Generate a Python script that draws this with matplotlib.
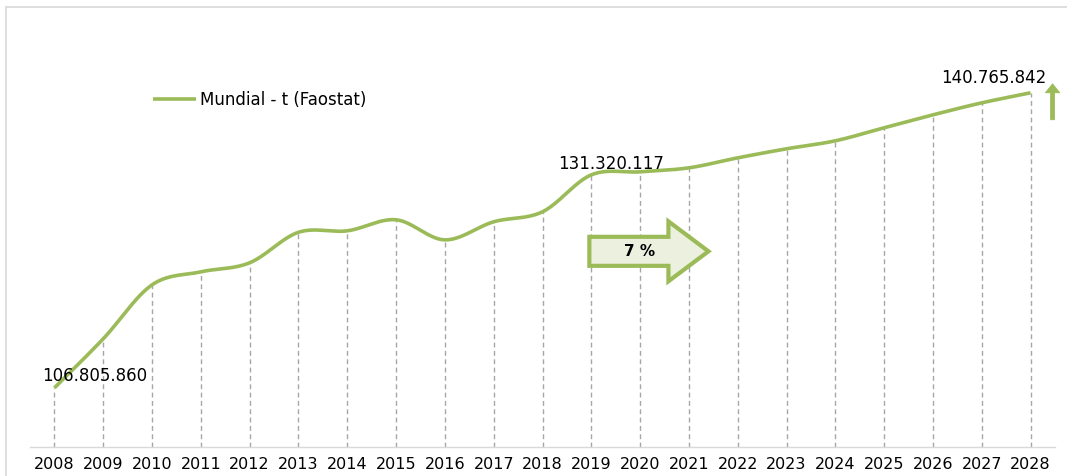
import numpy as np
import matplotlib
matplotlib.use("Agg")
import matplotlib.pyplot as plt
from matplotlib.patches import Rectangle, FancyArrow

# World production, tonnes (FAOSTAT series with projection to 2028)
years = list(range(2008, 2029))
production_mt = [106.805860, 112.45, 118.66, 120.16, 121.20, 124.71, 124.88,
                 126.15, 123.84, 125.92, 127.07, 131.320117, 131.67, 132.13,
                 133.28, 134.32, 135.24, 136.74, 138.23, 139.61, 140.765842]
labelled = {2008: "106.805.860", 2019: "131.320.117", 2028: "140.765.842"}
series_name = "Mundial - t (Faostat)"
growth_text = "7 %"

GREEN = "#9bbb59"
FILL = "#ebf1de"
GRID = "#a6a6a6"
AXIS = "#d9d9d9"

plt.rcParams["font.family"] = ["DejaVu Sans"]

W, H = 1067, 476
fig = plt.figure(figsize=(W / 100, H / 100), dpi=100)
ax = fig.add_axes([30 / W, (H - 447) / H, (1055 - 30) / W, (447 - 56) / H])

x = np.array(years, dtype=float)
y = np.array(production_mt, dtype=float)


def smooth_curve(xs, ys, n=40):
    """Bezier smoothing through every point (Catmull-Rom style control points)."""
    px = np.concatenate([[xs[0]], xs, [xs[-1]]])
    py = np.concatenate([[ys[0]], ys, [ys[-1]]])
    out_x, out_y = [], []
    t = np.linspace(0, 1, n)
    for i in range(1, len(px) - 2):
        p0 = np.array([px[i], py[i]])
        p3 = np.array([px[i + 1], py[i + 1]])
        c1 = p0 + (np.array([px[i + 1], py[i + 1]]) - np.array([px[i - 1], py[i - 1]])) / 6
        c2 = p3 - (np.array([px[i + 2], py[i + 2]]) - np.array([px[i], py[i]])) / 6
        b = ((1 - t) ** 3)[:, None] * p0 + (3 * (1 - t) ** 2 * t)[:, None] * c1 \
            + (3 * (1 - t) * t ** 2)[:, None] * c2 + (t ** 3)[:, None] * p3
        out_x.extend(b[:, 0])
        out_y.extend(b[:, 1])
    return np.array(out_x), np.array(out_y)


ymin, ymax = 100.0, 145.0

# drop lines from each point to the axis
ax.vlines(x, ymin, y, colors=GRID, linestyles=(0, (3.5, 2.5)), linewidth=1.0, zorder=1)

sx, sy = smooth_curve(x, y)
ax.plot(sx, sy, color=GREEN, linewidth=2.6, solid_capstyle="butt", zorder=3,
        label=series_name)

ax.set_xlim(2007.5, 2028.5)
ax.set_ylim(ymin, ymax)
ax.set_xticks(years)
ax.set_xticklabels([str(v) for v in years], fontsize=11.5, color="#000000")
ax.tick_params(axis="x", length=0, pad=7)
ax.set_yticks([])
for side in ("top", "right", "left"):
    ax.spines[side].set_visible(False)
ax.spines["bottom"].set_color(AXIS)
ax.spines["bottom"].set_linewidth(1.0)

# value labels
offsets = {2008: (40, 12), 2019: (20, 11), 2028: (-37, 15)}
for yr, txt in labelled.items():
    i = years.index(yr)
    ax.annotate(txt, (x[i], y[i]), xytext=offsets[yr], textcoords="offset pixels",
                ha="center", va="center", fontsize=12, color="#000000", zorder=5)

# growth block arrow
ax.add_patch(FancyArrow(2018.96, 122.52, 1.62, 0, width=3.34, head_width=6.9,
                        head_length=0.82, length_includes_head=False,
                        facecolor=FILL, edgecolor=GREEN, linewidth=3,
                        joinstyle="miter", zorder=4))
ax.text(2019.98, 122.52, growth_text, ha="center", va="center", fontsize=11,
        fontweight="bold", color="#000000", zorder=5)

# upward trend arrow at the end of the series
ax.add_patch(FancyArrow(2028.45, 137.66, 0, 3.1, width=0.085, head_width=0.3,
                        head_length=1.05, length_includes_head=False,
                        facecolor=GREEN, edgecolor=GREEN, linewidth=0.5,
                        clip_on=False, zorder=4))

ax.legend(loc="center left", bbox_to_anchor=(153 / W, (H - 100) / H),
          bbox_transform=fig.transFigure, frameon=False, fontsize=12,
          handlelength=2.55, handletextpad=0.25, borderpad=0, borderaxespad=0)

# light outer frame
fig.patches.append(Rectangle((6 / W, -0.1), 1.2, (H - 7) / H + 0.1,
                             transform=fig.transFigure, fill=False,
                             edgecolor=AXIS, linewidth=1.2))

fig.savefig("out.png", dpi=100, facecolor="white")
